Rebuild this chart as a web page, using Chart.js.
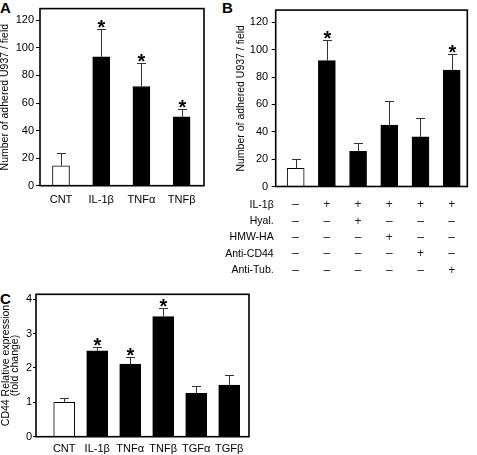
<!DOCTYPE html>
<html>
<head>
<meta charset="utf-8">
<script src="https://cdn.jsdelivr.net/npm/chart.js@4.4.1/dist/chart.umd.min.js"></script>
<style>
  body { margin: 0; background: #fff; width: 477px; height: 455px; position: relative; overflow: hidden;
         font-family: 'Liberation Sans', Arial, sans-serif; }
  canvas { position: absolute; }
  .tag { position: absolute; font-weight: bold; font-size: 15px; line-height: 1; color: #000; }
</style>
</head>
<body>
<div class="tag" style="left:0;top:0">A</div>
<div class="tag" style="left:222px;top:0">B</div>
<div class="tag" style="left:0;top:291px">C</div>
<canvas id="chartA" width="210" height="215" style="left:0;top:0"></canvas>
<canvas id="chartB" width="267" height="285" style="left:210px;top:0"></canvas>
<canvas id="chartC" width="260" height="170" style="left:0;top:285px"></canvas>
<script>
// Painel A - adesão de U937
const labelsA = ['CNT', 'IL-1β', 'TNFα', 'TNFβ'];
const meansA = [14.5, 93.5, 72, 50];
const errsA = [9, 20, 17.2, 5.8];
const sigA = [false, true, true, true];
const ticksA = [0, 20, 40, 60, 80, 100, 120];

// Painel B - IL-1β com tratamentos
const meansB = [13.2, 92, 25.7, 45, 36.3, 85.2];
const errsB = [6.7, 15.3, 6.3, 17.4, 14.1, 11.6];
const sigB = [false, true, false, false, false, true];
const rowLabelsB = ['IL-1β', 'Hyal.', 'HMW-HA', 'Anti-CD44', 'Anti-Tub.'];
const rowIL1 = ['–', '+', '+', '+', '+', '+'];
const rowHyal = ['–', '–', '+', '–', '–', '–'];
const rowHMW = ['–', '–', '–', '+', '–', '–'];
const rowCD44 = ['–', '–', '–', '–', '+', '–'];
const rowTub = ['–', '–', '–', '–', '–', '+'];

// Painel C - expressão de CD44
const labelsC = ['CNT', 'IL-1β', 'TNFα', 'TNFβ', 'TGFα', 'TGFβ'];
const meansC = [1.0, 2.5, 2.11, 3.49, 1.26, 1.5];
const errsC = [0.12, 0.12, 0.2, 0.26, 0.21, 0.29];
const sigC = [false, true, true, true, false, false];
const ticksC = [0, 1, 2, 3, 4];

const FONT = "'Liberation Sans', Arial, sans-serif";

// barras de erro, asteriscos, moldura e tabela de tratamentos
const extras = p => ({
    id: 'extras',
    afterDatasetsDraw(chart) {
        const { ctx, chartArea: a, scales: { x, y } } = chart;
        ctx.save();
        chart.getDatasetMeta(0).data.forEach((bar, i) => {
            const capY = Math.round(y.getPixelForValue(p.means[i] + p.errs[i])) + 0.5;
            const bx = Math.round(bar.x) + 0.5;
            ctx.strokeStyle = '#333';
            ctx.lineWidth = 1;
            ctx.beginPath();
            ctx.moveTo(bx, bar.y);
            ctx.lineTo(bx, capY);
            ctx.moveTo(bx - 4.5, capY);
            ctx.lineTo(bx + 4.5, capY);
            ctx.stroke();
            if (p.sig[i]) {
                ctx.fillStyle = '#000';
                ctx.font = 'bold 20px ' + FONT;
                ctx.textAlign = 'center';
                ctx.textBaseline = 'alphabetic';
                ctx.fillText('*', bx, capY + 4);
            }
        });
        ctx.strokeStyle = '#000';
        ctx.lineWidth = 1.6;
        ctx.strokeRect(a.left, a.top, a.right - a.left, a.bottom - a.top);

        if (p.rows) {
            ctx.textBaseline = 'middle';
            p.rows.forEach((row, r) => {
                const ry = 205 + r * 16.3;
                ctx.fillStyle = '#000';
                ctx.font = '10.5px ' + FONT;
                ctx.textAlign = 'right';
                ctx.fillText(p.rowLabels[r], a.left - 2, ry);
                ctx.font = '12px ' + FONT;
                ctx.textAlign = 'center';
                ctx.fillStyle = '#222';
                row.forEach((s, i) => ctx.fillText(s, x.getPixelForValue(i), ry));
            });
        }
        ctx.restore();
    }
});

function makeChart(id, p) {
    return new Chart(document.getElementById(id), {
        type: 'bar',
        data: {
            datasets: [{
                data: p.means.map((v, i) => ({ x: i, y: v })),
                backgroundColor: p.means.map((v, i) => i === 0 ? '#fff' : '#000'),
                borderColor: '#000',
                borderWidth: 1,
                barThickness: p.barW
            }]
        },
        options: {
            responsive: false,
            animation: false,
            devicePixelRatio: 1,
            layout: { padding: { left: 0, top: p.top, right: p.right, bottom: p.bottom } },
            plugins: { legend: { display: false }, tooltip: { enabled: false } },
            scales: {
                x: {
                    type: 'linear',
                    offset: false,
                    min: p.xMin,
                    max: p.xMax,
                    display: !!p.labels,
                    grid: { display: false, drawTicks: false, offset: false },
                    border: { display: false },
                    ticks: {
                        stepSize: 1, includeBounds: false, autoSkip: false, maxRotation: 0,
                        padding: p.labPad, color: '#000', font: { family: FONT, size: 11 },
                        callback: v => (p.labels && Number.isInteger(v)) ? (p.labels[v] || '') : ''
                    },
                    afterFit: s => { s.height = p.xH; }
                },
                y: {
                    min: 0,
                    max: p.yMax,
                    grid: { drawOnChartArea: false, color: '#000', tickLength: p.tickLen },
                    border: { display: false },
                    afterBuildTicks: s => { s.ticks = p.yTicks.map(v => ({ value: v })); },
                    ticks: { padding: p.tickPad, color: '#000', font: { family: FONT, size: 11 } },
                    title: {
                        display: true, text: p.title, color: '#000',
                        font: { family: FONT, size: 10.5, lineHeight: p.titleLH },
                        padding: { top: p.titlePad, bottom: 0 }
                    },
                    afterFit: s => { s.width = p.yW; }
                }
            }
        },
        plugins: [extras(p)]
    });
}

makeChart('chartA', {
    labels: labelsA, means: meansA, errs: errsA, sig: sigA, yTicks: ticksA,
    barW: 17, xMin: -0.522, xMax: 3.557, yMax: 128.5,
    top: 7.5, right: 6, bottom: 0, xH: 29.3, labPad: 8,
    yW: 40, tickLen: 4, tickPad: 2,
    title: 'Number of adhered U937 / field', titleLH: 1.0, titlePad: 0
});

makeChart('chartB', {
    labels: null, means: meansB, errs: errsB, sig: sigB, yTicks: ticksA,
    rowLabels: rowLabelsB, rows: [rowIL1, rowHyal, rowHMW, rowCD44, rowTub],
    barW: 17, xMin: -0.64, xMax: 5.5, yMax: 129,
    top: 7.3, right: 9.7, bottom: 98.5, xH: 0, labPad: 0,
    yW: 65.7, tickLen: 4, tickPad: 3.5,
    title: 'Number of adhered U937 / field', titleLH: 1.0, titlePad: 25.5
});

makeChart('chartC', {
    labels: labelsC, means: meansC, errs: errsC, sig: sigC, yTicks: ticksC,
    barW: 21, xMin: -0.855, xMax: 5.6, yMax: 4.14,
    top: 9.3, right: 11, bottom: 0, xH: 18.3, labPad: 6,
    yW: 36, tickLen: 3, tickPad: 1,
    title: ['CD44 Relative expression', '(fold change)'], titleLH: 0.86, titlePad: 1.5
});
</script>
</body>
</html>
